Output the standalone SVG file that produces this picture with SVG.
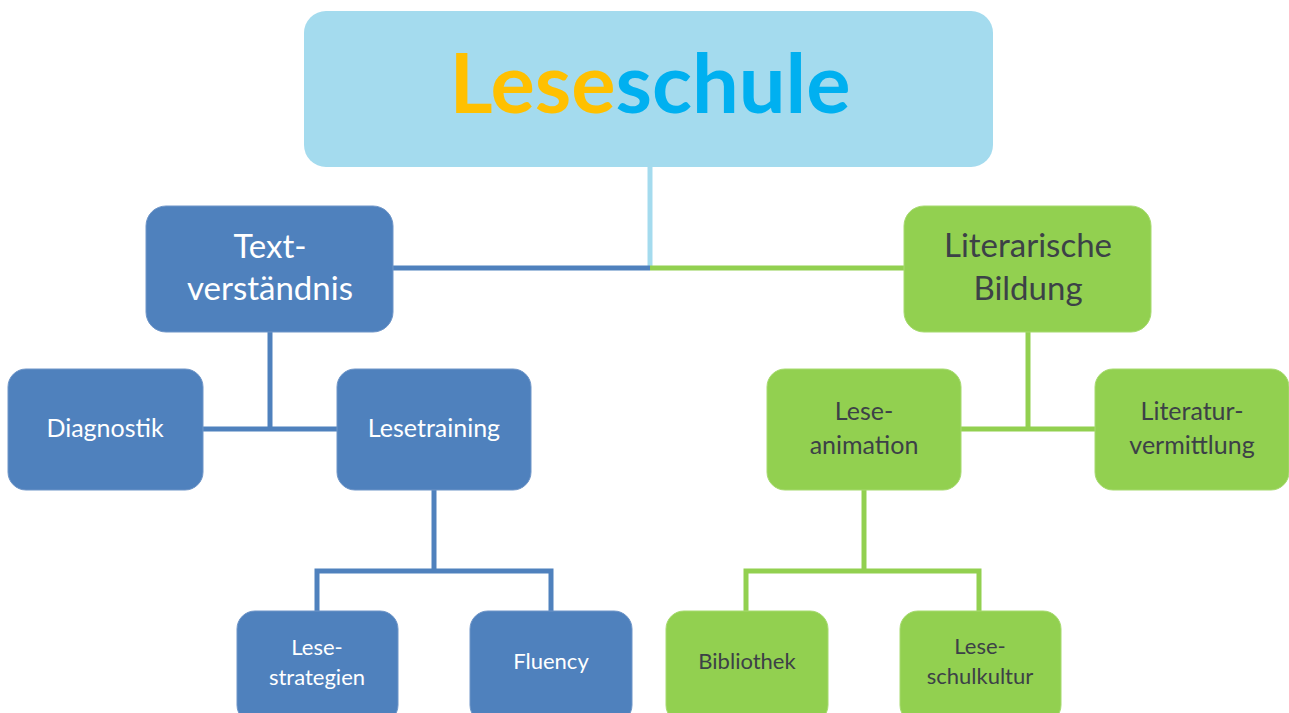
<svg xmlns="http://www.w3.org/2000/svg" width="1289" height="713" viewBox="0 0 1289 713">
<style>
.blue{fill:#4F81BD;stroke:#6E95C8;stroke-width:1}
.green{fill:#92D050;stroke:#A6DA6F;stroke-width:1}
.t{font-family:Lato,"Open Sans","Liberation Sans",sans-serif;text-anchor:middle}
.w{fill:#FFFFFF}
.d{fill:#3C4147}
.cb{stroke:#4F81BD;stroke-width:5;fill:none}
.cg{stroke:#92D050;stroke-width:5;fill:none}
</style>
<rect width="1289" height="713" fill="#FFFFFF"/>
<g id="connectors">
<line x1="650" y1="166" x2="650" y2="270" stroke="#A4DBEE" stroke-width="5"/>
<line class="cb" x1="392" y1="268" x2="650" y2="268"/>
<line class="cg" x1="650" y1="268" x2="905" y2="268"/>
<polyline class="cb" points="270,332 270,429"/>
<line class="cb" x1="203" y1="429" x2="337" y2="429"/>
<polyline class="cb" points="434,490 434,569"/>
<polyline class="cb" points="317,611 317,571 551,571 551,611"/>
<polyline class="cg" points="1028,332 1028,429"/>
<line class="cg" x1="961" y1="429" x2="1095" y2="429"/>
<polyline class="cg" points="864,490 864,569"/>
<polyline class="cg" points="746,611 746,571 979,571 979,611"/>
</g>
<g id="leseschule">
<rect x="304" y="11" width="689" height="156" rx="22" fill="#A4DBEE"/>
<text class="t" x="650" y="113" font-size="83" font-weight="bold"><tspan fill="#FFC000">Lese</tspan><tspan fill="#00B0F0">schule</tspan></text>
</g>
<g id="textverstaendnis">
<rect class="blue" x="146" y="206" width="247" height="126" rx="20"/>
<text class="t w" x="270" y="258" font-size="33">Text-</text>
<text class="t w" x="270" y="300" font-size="33">verständnis</text>
</g>
<g id="literarische-bildung">
<rect class="green" x="904" y="206" width="247" height="126" rx="20"/>
<text class="t d" x="1028" y="257" font-size="33">Literarische</text>
<text class="t d" x="1028" y="300" font-size="33">Bildung</text>
</g>
<g id="diagnostik">
<rect class="blue" x="8" y="369" width="195" height="121" rx="18"/>
<text class="t w" x="105" y="437" font-size="25">Diagnostik</text>
</g>
<g id="lesetraining">
<rect class="blue" x="337" y="369" width="194" height="121" rx="18"/>
<text class="t w" x="434" y="437" font-size="25">Lesetraining</text>
</g>
<g id="leseanimation">
<rect class="green" x="767" y="369" width="194" height="121" rx="18"/>
<text class="t d" x="864" y="420" font-size="25">Lese-</text>
<text class="t d" x="864" y="454" font-size="25">animation</text>
</g>
<g id="literaturvermittlung">
<rect class="green" x="1095" y="369" width="194" height="121" rx="18"/>
<text class="t d" x="1192" y="420" font-size="25">Literatur-</text>
<text class="t d" x="1192" y="454" font-size="25">vermittlung</text>
</g>
<g id="lesestrategien">
<rect class="blue" x="237" y="611" width="161" height="112" rx="18"/>
<text class="t w" x="317" y="655" font-size="22">Lese-</text>
<text class="t w" x="317" y="685" font-size="22">strategien</text>
</g>
<g id="fluency">
<rect class="blue" x="470" y="611" width="162" height="112" rx="18"/>
<text class="t w" x="551" y="669" font-size="22">Fluency</text>
</g>
<g id="bibliothek">
<rect class="green" x="666" y="611" width="162" height="112" rx="18"/>
<text class="t d" x="747" y="669" font-size="22">Bibliothek</text>
</g>
<g id="leseschulkultur">
<rect class="green" x="900" y="611" width="161" height="112" rx="18"/>
<text class="t d" x="980" y="654" font-size="22">Lese-</text>
<text class="t d" x="980" y="684" font-size="22">schulkultur</text>
</g>
</svg>
